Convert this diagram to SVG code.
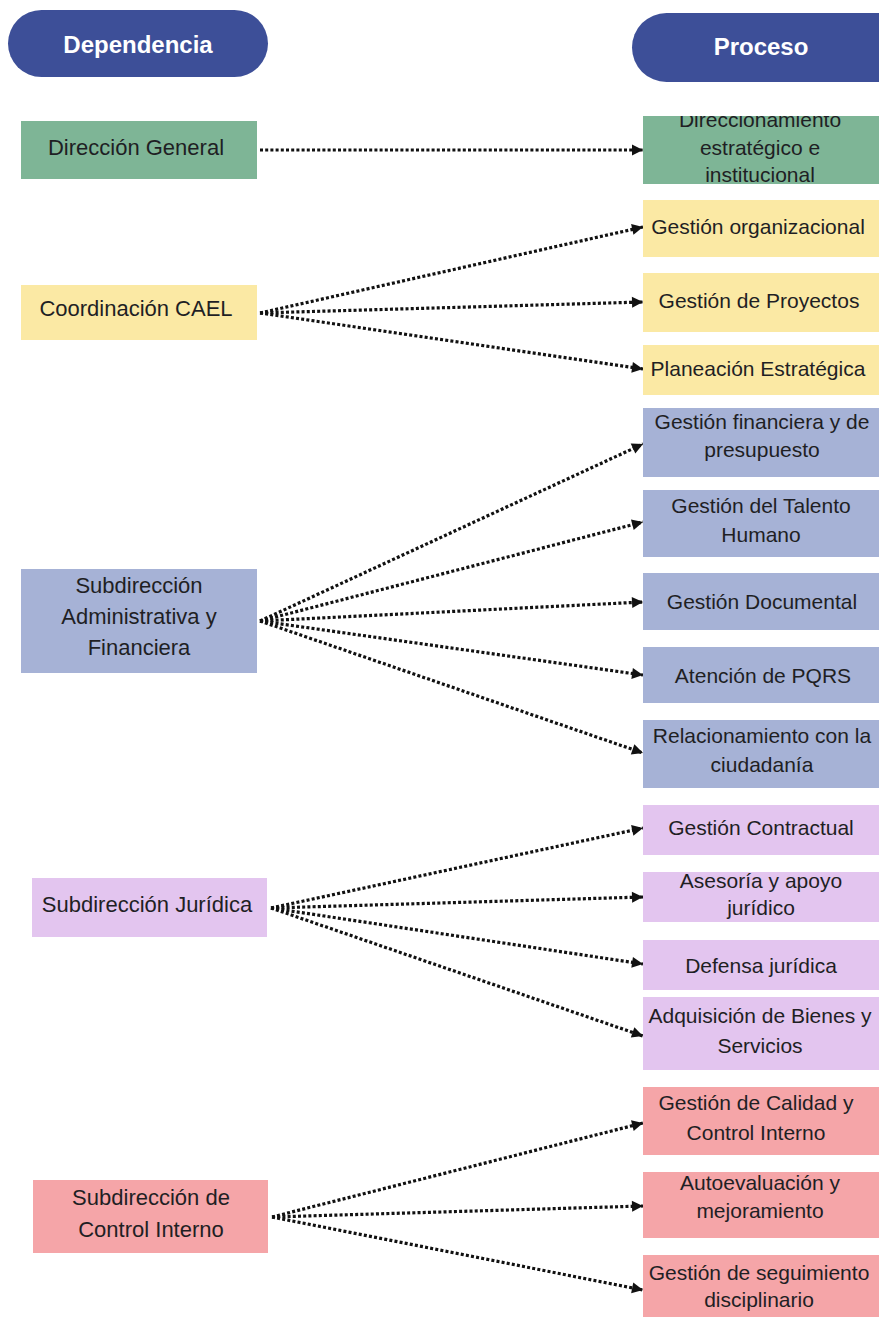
<svg xmlns="http://www.w3.org/2000/svg" width="879" height="1317" viewBox="0 0 879 1317">
<style>
.hdr{fill:#3d4f98}
.ht{font-family:"Liberation Sans",Arial,sans-serif;font-weight:bold;font-size:24px;fill:#ffffff;text-anchor:middle}
.t{font-family:"Liberation Sans",Arial,sans-serif;font-size:21px;fill:#1f1f24;text-anchor:middle}
.l{font-size:22px}
.g{fill:#7eb596}
.y{fill:#fbe9a4}
.b{fill:#a6b2d6}
.p{fill:#e3c5ef}
.r{fill:#f5a5a8}
.conn line{stroke:#111;stroke-width:3.2;stroke-dasharray:3 2.2;fill:none;marker-end:url(#ah)}
</style>
<defs>
<marker id="ah" markerUnits="userSpaceOnUse" markerWidth="14" markerHeight="14" viewBox="0 0 14 14" refX="12" refY="7" orient="auto">
<path d="M1,1.5 L12,7 L1,12.5 Z" fill="#111"/>
</marker>
<clipPath id="clipDir"><rect x="643" y="116" width="240" height="68"/></clipPath>
</defs>
<rect width="879" height="1317" fill="#ffffff"/>

<g id="hdr-dependencia">
<rect class="hdr" x="8" y="10" width="260" height="67" rx="33.5"/>
<text class="ht" x="138" y="53">Dependencia</text>
</g>
<g id="hdr-proceso">
<rect class="hdr" x="632" y="13" width="280" height="69" rx="34.5"/>
<text class="ht" x="761" y="55">Proceso</text>
</g>

<g class="conn" id="connectors">
<line x1="260" y1="150" x2="643" y2="150"/>
<line x1="260" y1="313" x2="643" y2="227"/>
<line x1="260" y1="313" x2="643" y2="302"/>
<line x1="260" y1="313" x2="643" y2="369"/>
<line x1="260" y1="621" x2="643" y2="444"/>
<line x1="260" y1="621" x2="643" y2="522"/>
<line x1="260" y1="621" x2="643" y2="602"/>
<line x1="260" y1="621" x2="643" y2="675"/>
<line x1="260" y1="621" x2="643" y2="753"/>
<line x1="271" y1="908" x2="643" y2="828"/>
<line x1="271" y1="908" x2="643" y2="897"/>
<line x1="271" y1="908" x2="643" y2="964"/>
<line x1="271" y1="908" x2="643" y2="1036"/>
<line x1="272" y1="1217" x2="643" y2="1123"/>
<line x1="272" y1="1217" x2="643" y2="1206"/>
<line x1="272" y1="1217" x2="643" y2="1290"/>
</g>

<g id="dep-direccion-general">
<rect class="g" x="21" y="121" width="236" height="58"/>
<text class="t l" x="136" y="155">Dirección General</text>
</g>
<g id="dep-coordinacion-cael">
<rect class="y" x="21" y="285" width="236" height="55"/>
<text class="t l" x="136" y="316">Coordinación CAEL</text>
</g>
<g id="dep-subdir-administrativa">
<rect class="b" x="21" y="569" width="236" height="104"/>
<text class="t l" x="139" y="593">Subdirección</text>
<text class="t l" x="139" y="624">Administrativa y</text>
<text class="t l" x="139" y="655">Financiera</text>
</g>
<g id="dep-subdir-juridica">
<rect class="p" x="32" y="878" width="235" height="59"/>
<text class="t l" x="147" y="912">Subdirección Jurídica</text>
</g>
<g id="dep-subdir-control-interno">
<rect class="r" x="33" y="1180" width="235" height="73"/>
<text class="t l" x="151" y="1205">Subdirección de</text>
<text class="t l" x="151" y="1237">Control Interno</text>
</g>

<g id="proc-direccionamiento">
<rect class="g" x="643" y="116" width="240" height="68"/>
<g clip-path="url(#clipDir)">
<text class="t" x="760" y="127">Direccionamiento</text>
<text class="t" x="760" y="155">estratégico e</text>
<text class="t" x="760" y="182">institucional</text>
</g>
</g>
<g id="proc-gestion-organizacional">
<rect class="y" x="643" y="200" width="240" height="57"/>
<text class="t" x="758" y="234" font-size="19.6">Gestión organizacional</text>
</g>
<g id="proc-gestion-proyectos">
<rect class="y" x="643" y="273" width="240" height="59"/>
<text class="t" x="759" y="308" font-size="20.3">Gestión de Proyectos</text>
</g>
<g id="proc-planeacion">
<rect class="y" x="643" y="345" width="240" height="50"/>
<text class="t" x="758" y="376" font-size="20">Planeación Estratégica</text>
</g>
<g id="proc-financiera">
<rect class="b" x="643" y="408" width="240" height="69"/>
<text class="t" x="762" y="429">Gestión financiera y de</text>
<text class="t" x="762" y="457">presupuesto</text>
</g>
<g id="proc-talento">
<rect class="b" x="643" y="490" width="240" height="67"/>
<text class="t" x="761" y="513" font-size="20.3">Gestión del Talento</text>
<text class="t" x="761" y="542" font-size="20.3">Humano</text>
</g>
<g id="proc-documental">
<rect class="b" x="643" y="573" width="240" height="57"/>
<text class="t" x="762" y="609" font-size="21.5">Gestión Documental</text>
</g>
<g id="proc-pqrs">
<rect class="b" x="643" y="647" width="240" height="56"/>
<text class="t" x="763" y="683">Atención de PQRS</text>
</g>
<g id="proc-relacionamiento">
<rect class="b" x="643" y="720" width="240" height="68"/>
<text class="t" x="762" y="743">Relacionamiento con la</text>
<text class="t" x="762" y="772">ciudadanía</text>
</g>
<g id="proc-contractual">
<rect class="p" x="643" y="805" width="240" height="50"/>
<text class="t" x="761" y="835" font-size="19.8">Gestión Contractual</text>
</g>
<g id="proc-asesoria">
<rect class="p" x="643" y="872" width="240" height="50"/>
<text class="t" x="761" y="888">Asesoría y apoyo</text>
<text class="t" x="761" y="915">jurídico</text>
</g>
<g id="proc-defensa">
<rect class="p" x="643" y="940" width="240" height="50"/>
<text class="t" x="761" y="973">Defensa jurídica</text>
</g>
<g id="proc-adquisicion">
<rect class="p" x="643" y="997" width="240" height="73"/>
<text class="t" x="760" y="1023" font-size="21.5">Adquisición de Bienes y</text>
<text class="t" x="760" y="1053" font-size="21.5">Servicios</text>
</g>
<g id="proc-calidad">
<rect class="r" x="643" y="1087" width="240" height="68"/>
<text class="t" x="756" y="1110">Gestión de Calidad y</text>
<text class="t" x="756" y="1140">Control Interno</text>
</g>
<g id="proc-autoevaluacion">
<rect class="r" x="643" y="1172" width="240" height="66"/>
<text class="t" x="760" y="1190">Autoevaluación y</text>
<text class="t" x="760" y="1218">mejoramiento</text>
</g>
<g id="proc-seguimiento">
<rect class="r" x="643" y="1255" width="240" height="70"/>
<text class="t" x="759" y="1280">Gestión de seguimiento</text>
<text class="t" x="759" y="1307">disciplinario</text>
</g>
</svg>
